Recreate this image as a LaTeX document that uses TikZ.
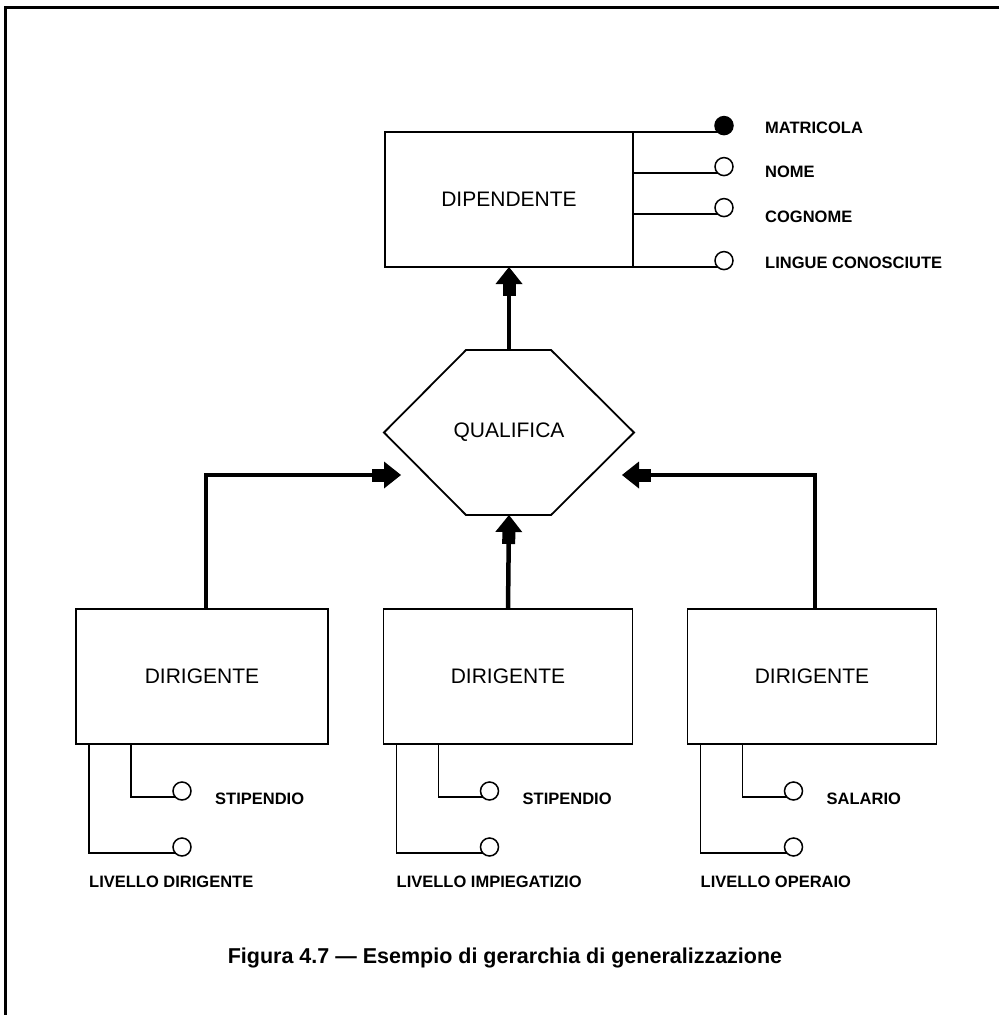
\documentclass[tikz,border=0pt]{standalone}
\usepackage{fontspec}
\setmainfont{Liberation Sans}
\usetikzlibrary{arrows.meta,calc}

\begin{document}
\begin{tikzpicture}[x=1pt,y=-1pt,
  link/.style={line width=1.8pt},
  entity/.style={draw, line width=1.8pt, minimum width=249pt, minimum height=135pt,
    inner sep=0pt, outer sep=0pt, font=\fontsize{21}{25}\selectfont},
  attr/.style={draw, circle, line width=1.5pt, minimum size=18pt, inner sep=0pt, outer sep=0pt},
  key attr/.style={attr, fill=black},
  attr label/.style={anchor=west, inner sep=0pt, font=\bfseries\fontsize{16.5}{20}\selectfont},
  isa/.style={line width=4.5pt,
    -{Rectangle[width=13pt,length=12pt,line width=0pt,sep=0pt]Triangle[width=27pt,length=17pt,line width=0pt,sep=0pt]}},
]
\useasboundingbox (0,0) rectangle (999,1015);

% page frame
\draw[line width=3pt] (999,7) -- (5,7) -- (5,1015);

% parent entity and its attributes
\node[entity, minimum width=248pt] (dip) at (509,199.5) {DIPENDENTE};
\node[key attr] (a1) at (724,125.6) {};
\node[attr] (a2) at (724,166.6) {};
\node[attr] (a3) at (724,207.6) {};
\node[attr] (a4) at (724,260.6) {};
\draw[link] (dip.north east) -- (a1.south west);
\draw[link] (dip.east |- a2.south west) -- (a2.south west);
\draw[link] (dip.east |- a3.south west) -- (a3.south west);
\draw[link] (dip.south east) -- (a4.south west);
\node[attr label] at (765,128) {MATRICOLA};
\node[attr label] at (765,172) {NOME};
\node[attr label] at (765,217) {COGNOME};
\node[attr label] at (765,263) {LINGUE CONOSCIUTE};

% generalisation hexagon
\node[minimum width=250pt, minimum height=165pt, inner sep=0pt, outer sep=0pt,
  font=\fontsize{21}{25}\selectfont] (q) at (509,432.5) {QUALIFICA};
\draw[link] (q.west) -- ($(q.north west)+(82,0)$) -- ($(q.north east)+(-83,0)$)
  -- (q.east) -- ($(q.south east)+(-83,0)$) -- ($(q.south west)+(82,0)$) -- cycle;

% child entities
\node[entity, minimum width=252pt] (d1) at (202,676.5) {DIRIGENTE};
\node[entity] (d2) at (508,676.5) {DIRIGENTE};
\node[entity] (d3) at (812,676.5) {DIRIGENTE};

% free ends of the side arrows
\coordinate (inL) at (401,475);
\coordinate (inR) at (622,475);

% generalisation arrows
\draw[isa] (q.north) -- (dip.south);
\draw[isa] (d2.north) -- (q.south);
\draw[isa] ([xshift=4pt]d1.north) |- (inL);
\draw[isa] ([xshift=3pt]d3.north) |- (inR);

% attributes of the child entities
\foreach \bx/\sa/\la in {d1/STIPENDIO/LIVELLO DIRIGENTE,
                         d2/STIPENDIO/LIVELLO IMPIEGATIZIO,
                         d3/SALARIO/LIVELLO OPERAIO} {
  \node[attr] (\bx-s) at ($(\bx.south west)+(106,47)$) {};
  \node[attr] (\bx-l) at ($(\bx.south west)+(106,103)$) {};
  \draw[link] ($(\bx.south west)+(55,0)$) |- (\bx-s.south west);
  \draw[link] ($(\bx.south west)+(13,0)$) |- (\bx-l.south west);
  \node[attr label] at ($(\bx.south west)+(139,55)$) {\sa};
  \node[attr label] at ($(\bx.south west)+(13,138)$) {\la};
}

% caption
\node[font=\bfseries\fontsize{21.5}{26}\selectfont] (cap) at (505,958)
  {Figura 4.7 — Esempio di gerarchia di generalizzazione};
\end{tikzpicture}
\end{document}
